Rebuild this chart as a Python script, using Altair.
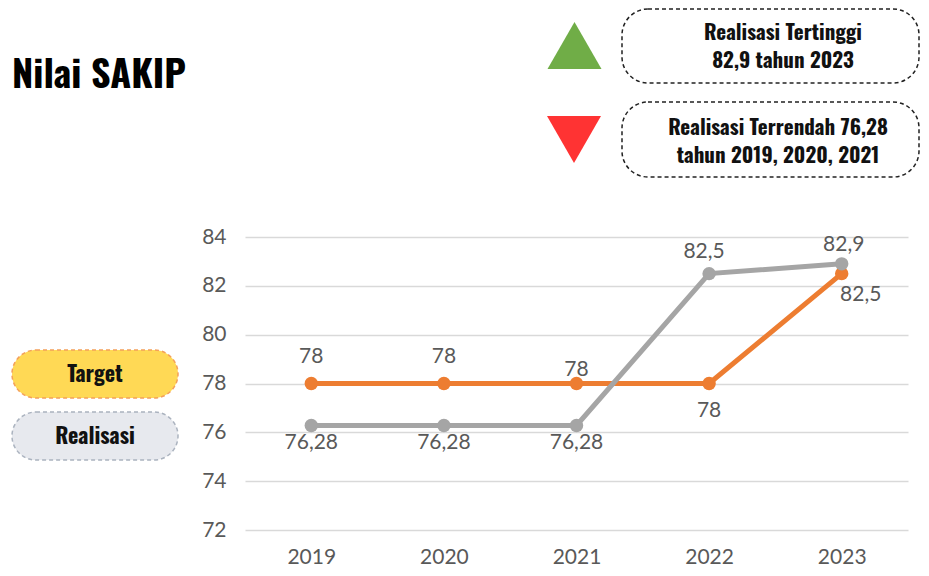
import altair as alt
import pandas as pd
import json

# ---- data ----
years = ["2019", "2020", "2021", "2022", "2023"]
target = [78, 78, 78, 78, 82.5]
realisasi = [76.28, 76.28, 76.28, 82.5, 82.9]
y_ticks = [72, 74, 76, 78, 80, 82, 84]

title_text = "Nilai SAKIP"
box_high = ["Realisasi Tertinggi", "82,9 tahun 2023"]
box_low = ["Realisasi Terrendah 76,28", "tahun 2019, 2020, 2021"]
legend_labels = ["Target", "Realisasi"]

def fmt(v):
    return f"{v:g}".replace(".", ",")

df = pd.DataFrame({
    "year": years * 2,
    "value": target + realisasi,
    "series": ["Target"] * 5 + ["Realisasi"] * 5,
})
df["label"] = [fmt(v) for v in df["value"]]

COND = "Oswald"
NUMF = "Lato"
NUMS = 21
ORANGE = "#ED7D31"
GRAY = "#A5A5A5"

x_enc = alt.X("year:O", scale=alt.Scale(type="point", padding=0.5),
              axis=alt.Axis(title=None, labelAngle=0, domain=False, ticks=False,
                            labelFont=NUMF, labelFontSize=NUMS, labelColor="#595959",
                            labelPadding=16, grid=False))
y_enc = alt.Y("value:Q", scale=alt.Scale(domain=[72, 84], nice=False, zero=False),
              axis=alt.Axis(title=None, values=y_ticks, domain=False, ticks=False,
                            labelFont=NUMF, labelFontSize=NUMS, labelColor="#595959",
                            labelPadding=19, grid=True, gridColor="#D9D9D9",
                            gridWidth=1.5))

base = alt.Chart(df)

def series_layers(name, color):
    d = base.transform_filter(alt.datum.series == name)
    line = d.mark_line(color=color, strokeWidth=5).encode(x=x_enc, y=y_enc)
    pts = d.mark_circle(color=color, size=180, opacity=1).encode(x="year:O", y="value:Q")
    return [line, pts]

def labels(name, yrs, dx, dy):
    expr = f"datum.series === '{name}' && indexof({json.dumps(yrs)}, datum.year) >= 0"
    return base.transform_filter(expr).mark_text(
        font=NUMF, fontSize=NUMS, color="#595959", dx=dx, dy=dy,
        baseline="middle").encode(x="year:O", y="value:Q", text="label:N")

one = pd.DataFrame({"a": [0]})

def rrect(x, x2, y, y2, r, fill, stroke):
    return alt.Chart(one).mark_rect(cornerRadius=r, fill=fill, stroke=stroke,
                                    strokeWidth=1.5, strokeDash=[4, 3]).encode(
        x=alt.value(x), x2=alt.value(x2), y=alt.value(y), y2=alt.value(y2))

def ctext(txt, x, y, size, align="center"):
    return alt.Chart(one).mark_text(font=COND, fontWeight="bold", fontSize=size,
                                    color="#111111", align=align,
                                    baseline="middle").encode(
        x=alt.value(x), y=alt.value(y), text=alt.value(txt))

def tri(shape, x, y, color):
    return alt.Chart(one).mark_point(shape=shape, size=2916, filled=True, fill=color,
                                     opacity=1, strokeWidth=0).encode(
        x=alt.value(x), y=alt.value(y))

layers = []
layers += series_layers("Target", ORANGE)
layers += series_layers("Realisasi", GRAY)
layers += [
    labels("Target", ["2019", "2020"], 0, -27),
    labels("Target", ["2021"], 0, -14),
    labels("Target", ["2022"], 0, 27),
    labels("Target", ["2023"], 19, 21),
    labels("Realisasi", ["2019", "2020", "2021"], 0, 18),
    labels("Realisasi", ["2022"], -5, -22),
    labels("Realisasi", ["2023"], 2, -19),
]
# title
layers.append(alt.Chart(one).mark_text(font=COND, fontWeight="bold", fontSize=38,
                                       color="#000000", align="left",
                                       baseline="alphabetic").encode(
    x=alt.value(-233), y=alt.value(-149), text=alt.value(title_text)))
# top-right boxes
layers += [
    rrect(377, 674, -228, -154, 26, "white", "#222222"),
    ctext(box_high[0], 538, -203, 21),
    ctext(box_high[1], 538, -175, 21),
    rrect(377, 674, -135, -60, 26, "white", "#222222"),
    ctext(box_low[0], 533, -108, 21),
    ctext(box_low[1], 533, -80, 21),
    tri("triangle-up", 329.5, -191.5, "#70AD47"),
    tri("triangle-down", 329, -97.5, "#FF3333"),
]
# legend pills
layers += [
    rrect(-233, -67, 113, 161, 24, "#FFD955", "#F4A05A"),
    ctext(legend_labels[0], -150, 138, 22),
    rrect(-233, -67, 175, 223, 24, "#E7E9EE", "#ABB3BF"),
    ctext(legend_labels[1], -150, 200, 22),
]

chart = alt.layer(*layers).properties(
    width=663, height=293,
    padding={"left": 237, "top": 229, "right": 13, "bottom": 38},
    autosize=alt.AutoSizeParams(type="none"),
    background="white",
).configure_view(stroke=None)

chart.save("out.html", embed_options={"renderer": "svg", "actions": False})
